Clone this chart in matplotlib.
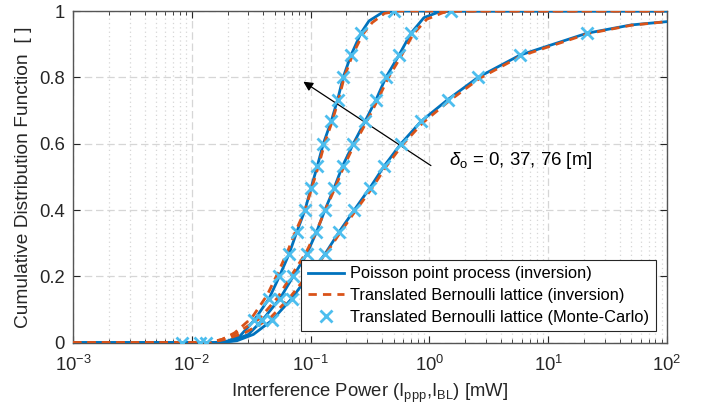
import matplotlib
matplotlib.use("Agg")
import matplotlib.pyplot as plt
from matplotlib.ticker import LogLocator, FixedLocator, NullLocator

plt.rcParams['font.family'] = ['Liberation Sans', 'DejaVu Sans']
plt.rcParams['mathtext.fontset'] = 'custom'
plt.rcParams['mathtext.rm'] = 'Liberation Sans'
plt.rcParams['mathtext.it'] = 'Liberation Sans:italic'

# Monte-Carlo markers (CDF levels shared by the three offsets)
mc_levels = [1.0, 0.933, 0.867, 0.8, 0.733, 0.667, 0.6, 0.533, 0.467,
             0.4, 0.333, 0.267, 0.2, 0.133, 0.067, 0.0]
mc_x_d0 = [0.504, 0.265, 0.219, 0.188, 0.169, 0.149, 0.128, 0.114, 0.101,
           0.0897, 0.0764, 0.0658, 0.0546, 0.0447, 0.0334, 0.00822]
mc_x_d37 = [1.535, 0.700, 0.555, 0.431, 0.356, 0.287, 0.229, 0.186, 0.158,
            0.132, 0.112, 0.0927, 0.0714, 0.0552, 0.039, 0.0117]
mc_levels_d76 = mc_levels[1:]
mc_x_d76 = [21.2, 5.79, 2.57, 1.43, 0.849, 0.577, 0.417, 0.316, 0.233,
            0.173, 0.132, 0.095, 0.0694, 0.0471, 0.0131]

# Poisson point process (inversion)
ppp_x_d0 = [1e-3, 0.015, 0.02, 0.0254, 0.0334, 0.0447, 0.0546, 0.0658, 0.0764,
            0.0897, 0.101, 0.114, 0.128, 0.149, 0.169, 0.188, 0.219, 0.265,
            0.31, 0.4, 0.5, 100]
ppp_y_d0 = [0, 0, 0.005, 0.02, 0.067, 0.133, 0.2, 0.267, 0.333,
            0.4, 0.467, 0.533, 0.6, 0.667, 0.733, 0.8, 0.867, 0.933,
            0.97, 0.995, 1.0, 1.0]
ppp_x_d37 = [1e-3, 0.016, 0.022, 0.03, 0.039, 0.0552, 0.0714, 0.0927, 0.112,
             0.132, 0.158, 0.186, 0.229, 0.287, 0.356, 0.431, 0.555, 0.70,
             0.9, 1.2, 1.535, 100]
ppp_y_d37 = [0, 0, 0.006, 0.025, 0.067, 0.133, 0.2, 0.267, 0.333,
             0.4, 0.467, 0.533, 0.6, 0.667, 0.733, 0.8, 0.867, 0.933,
             0.98, 0.997, 1.0, 1.0]
ppp_x_d76 = [1e-3, 0.017, 0.024, 0.033, 0.0471, 0.0694, 0.095, 0.132, 0.173,
             0.233, 0.316, 0.417, 0.577, 0.849, 1.43, 2.57, 5.79, 21.2, 50, 100]
ppp_y_d76 = [0, 0, 0.006, 0.025, 0.067, 0.133, 0.2, 0.267, 0.333,
             0.4, 0.467, 0.533, 0.6, 0.667, 0.733, 0.8, 0.867, 0.933, 0.958, 0.968]

# Translated Bernoulli lattice (inversion)
tbl_x_d0 = [1e-3, 0.014, 0.018, 0.023, 0.032, 0.043, 0.053, 0.064, 0.075,
            0.09, 0.102, 0.116, 0.131, 0.152, 0.172, 0.192, 0.225, 0.275,
            0.33, 0.42, 0.55, 100]
tbl_y_d0 = [0, 0, 0.01, 0.03, 0.075, 0.143, 0.21, 0.275, 0.337,
            0.4, 0.465, 0.53, 0.6, 0.667, 0.733, 0.8, 0.867, 0.93,
            0.965, 0.993, 1.0, 1.0]
tbl_x_d37 = [1e-3, 0.014, 0.018, 0.024, 0.037, 0.053, 0.069, 0.091, 0.111,
             0.133, 0.16, 0.19, 0.235, 0.295, 0.365, 0.445, 0.57, 0.73,
             0.95, 1.3, 1.7, 100]
tbl_y_d37 = [0, 0, 0.01, 0.03, 0.072, 0.137, 0.203, 0.27, 0.333,
             0.4, 0.465, 0.53, 0.6, 0.665, 0.73, 0.795, 0.86, 0.93,
             0.975, 0.995, 1.0, 1.0]
tbl_x_d76 = [1e-3, 0.014, 0.019, 0.028, 0.045, 0.067, 0.094, 0.133, 0.176,
             0.238, 0.325, 0.43, 0.595, 0.88, 1.48, 2.65, 5.95, 21.8, 50, 100]
tbl_y_d76 = [0, 0, 0.01, 0.03, 0.072, 0.137, 0.203, 0.265, 0.33,
             0.397, 0.463, 0.53, 0.597, 0.663, 0.73, 0.797, 0.865, 0.932, 0.957, 0.968]

blue = '#0072BD'
orange = '#D95319'
light = '#4DBEEE'

fig = plt.figure(figsize=(7.1, 4.2), dpi=100)
ax = fig.add_axes([0.1028, 0.184, 0.8366, 0.7898])

for px, py in [(ppp_x_d0, ppp_y_d0), (ppp_x_d37, ppp_y_d37), (ppp_x_d76, ppp_y_d76)]:
    ax.plot(px, py, '-', color=blue, lw=2, zorder=3)
for px, py in [(tbl_x_d0, tbl_y_d0), (tbl_x_d37, tbl_y_d37), (tbl_x_d76, tbl_y_d76)]:
    ax.plot(px, py, '--', color=orange, lw=2, dashes=(3, 2.2), zorder=4)
for mx, my in [(mc_x_d0, mc_levels), (mc_x_d37, mc_levels), (mc_x_d76, mc_levels_d76)]:
    ax.plot(mx, my, 'x', color=light, ms=8, mew=2, zorder=5)

ax.set_xscale('log')
ax.set_xlim(1e-3, 1e2)
ax.set_ylim(0, 1)
ax.xaxis.set_major_locator(LogLocator(base=10, numticks=10))
ax.xaxis.set_minor_locator(LogLocator(base=10, subs=range(2, 10), numticks=20))
ax.yaxis.set_major_locator(FixedLocator([0, 0.2, 0.4, 0.6, 0.8, 1]))
ax.yaxis.set_minor_locator(NullLocator())
ax.set_yticklabels(['0', '0.2', '0.4', '0.6', '0.8', '1'])

ax.grid(True, which='major', ls=(0, (6, 3)), color='#d6d6d6', lw=0.9)
ax.grid(True, which='minor', axis='x', ls=(0, (1, 2.5)), color='#d6d6d6', lw=0.9)
ax.set_axisbelow(True)

for s in ax.spines.values():
    s.set_color('#555555')
    s.set_linewidth(1)
ax.tick_params(which='both', direction='in', top=True, right=True,
               colors='#262626', labelsize=13.3)
ax.tick_params(which='major', length=5, width=0.8)
ax.tick_params(which='minor', length=3, width=0.6)
ax.tick_params(axis='x', pad=9)
ax.tick_params(axis='y', pad=6)

ax.set_xlabel('Interference Power (I$_{\\rm ppp}$,I$_{\\rm BL}$) [mW]', fontsize=13.3,
              color='#262626', labelpad=5)
ax.set_ylabel('Cumulative Distribution Function  [ ]', fontsize=13.8,
              color='#262626', labelpad=5)

ax.annotate('', xy=(0.0869, 0.787), xytext=(1.03, 0.534),
            arrowprops=dict(arrowstyle='-|>', color='black', lw=0.9,
                            mutation_scale=14, shrinkA=0, shrinkB=0))
ax.text(1.45, 0.55, '$\\delta_{\\rm o}$ = 0, 37, 76 [m]', fontsize=13.4,
        va='center', ha='left')

h1, = ax.plot([], [], '-', color=blue, lw=2)
h2, = ax.plot([], [], '--', color=orange, lw=2, dashes=(3, 2.2))
h3, = ax.plot([], [], 'x', color=light, ms=8, mew=2)
leg = ax.legend([h1, h2, h3],
                ['Poisson point process (inversion)',
                 'Translated Bernoulli lattice (inversion)',
                 'Translated Bernoulli lattice (Monte-Carlo)'],
                loc='lower right', bbox_to_anchor=(0.981, 0.035),
                borderaxespad=0, fontsize=11.8, fancybox=False,
                framealpha=1, edgecolor='#262626', handlelength=2.2,
                handletextpad=0.4, borderpad=0.4, labelspacing=0.4)
leg.get_frame().set_linewidth(0.8)
leg.set_zorder(10)

fig.savefig('out.png', dpi=100)
